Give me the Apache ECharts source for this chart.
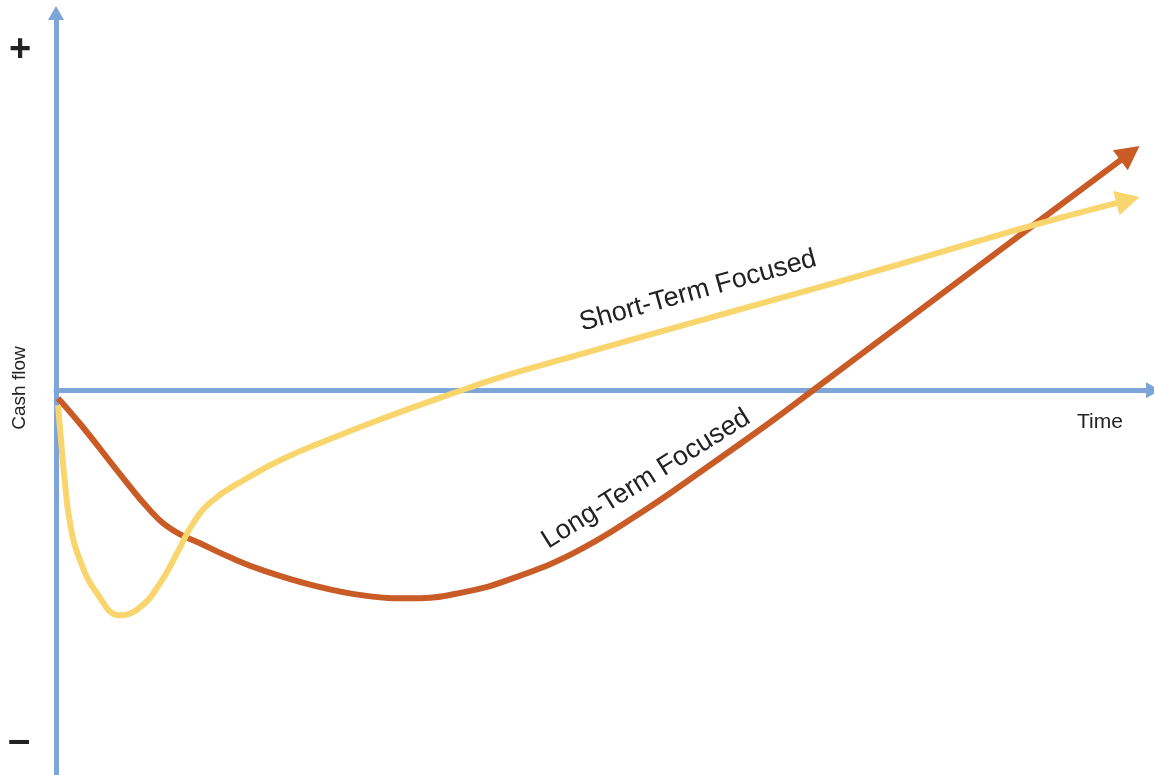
<!DOCTYPE html>
<html>
<head>
<meta charset="utf-8">
<title>Cash flow</title>
<script src="https://cdn.jsdelivr.net/npm/echarts@6/dist/echarts.min.js"></script>
<style>
html, body { margin: 0; padding: 0; background: #fff; }
#main { width: 1154px; height: 775px; }
</style>
</head>
<body>
<div id="main"></div>
<script>
// time runs 0..100, cash flow is in arbitrary units (0 = break even)
var shortTime = [0.18, 0.46, 0.73, 1.28, 2.19, 3.74, 5.83, 7.66, 9.48, 11.03, 12.49, 14.31, 17.41, 20.42, 24.70, 29.54, 35.00, 41.11, 47.13, 56.24, 65.36, 76.94, 88.79, 97.72];
var shortCash = [-3.98, -13.26, -22.02, -35.28, -45.09, -53.85, -59.68, -57.56, -51.19, -43.24, -35.28, -29.18, -23.34, -18.57, -13.26, -7.77, -2.04, 3.98, 8.99, 16.45, 23.87, 33.42, 43.50, 50.40];

var longTime = [0.18, 2.46, 5.56, 8.57, 10.67, 13.13, 15.86, 18.87, 23.43, 27.99, 32.54, 37.10, 41.11, 47.13, 53.24, 59.34, 65.36, 69.01, 76.94, 86.05, 97.90];
var longCash = [-2.12, -9.81, -21.22, -31.83, -37.14, -40.58, -44.30, -47.75, -51.72, -54.38, -55.17, -53.58, -50.40, -43.24, -32.63, -20.42, -7.96, 0, 17.24, 37.14, 62.86];

var blue = '#7DA5D8';
var yellow = '#F9D56E';
var orange = '#C95B27';

var myChart = echarts.init(document.getElementById('main'));

function makeData(xs, ys, rot) {
	var out = [];
	for (var i = 0; i < xs.length; i++) {
		out.push([xs[i], ys[i]]);
	}
	// last point carries the arrow head
	var last = out.pop();
	out.push({
		value: last,
		symbol: 'triangle',
		symbolSize: [25, 24],
		symbolRotate: rot
	});
	return out;
}

function buildOption(rotShort, rotLong) {
	return {
		animation: false,
		grid: { left: 56, right: 1, top: 13, bottom: 0 },
		xAxis: {
			type: 'value', min: 0, max: 100,
			axisLine: { show: true, onZero: true, symbol: ['none', 'triangle'], symbolSize: [16, 14], lineStyle: { color: blue, width: 5 } },
			axisTick: { show: false }, axisLabel: { show: false }, splitLine: { show: false }
		},
		yAxis: {
			type: 'value', min: -102, max: 100,
			axisLine: { show: true, symbol: ['none', 'triangle'], symbolSize: [16, 14], lineStyle: { color: blue, width: 5 } },
			axisTick: { show: false }, axisLabel: { show: false }, splitLine: { show: false }
		},
		series: [{
			name: 'Long-Term Focused',
			type: 'line',
			smooth: 0.45,
			symbol: 'none',
			showSymbol: true,
			z: 3,
			lineStyle: { color: orange, width: 6 },
			itemStyle: { color: orange },
			data: makeData(longTime, longCash, rotLong)
		}, {
			name: 'Short-Term Focused',
			type: 'line',
			smooth: 0.45,
			symbol: 'none',
			showSymbol: true,
			z: 4,
			lineStyle: { color: yellow, width: 6 },
			itemStyle: { color: yellow },
			data: makeData(shortTime, shortCash, rotShort)
		}],
		graphic: [
			{ type: 'text', left: 9, top: 32, style: { text: '+', font: 'bold 38px "Liberation Sans", Arial, sans-serif', fill: '#222' } },
			{ type: 'text', left: 8, top: 722, style: { text: '–', font: 'bold 40px "Liberation Sans", Arial, sans-serif', fill: '#222' } },
			{ type: 'text', x: 20, y: 388, rotation: Math.PI / 2, style: { text: 'Cash flow', font: '19px "Liberation Sans", Arial, sans-serif', fill: '#222', align: 'center', verticalAlign: 'middle' } },
			{ type: 'text', x: 1100, y: 422, style: { text: 'Time', font: '21px "Liberation Sans", Arial, sans-serif', fill: '#222', align: 'center', verticalAlign: 'middle' } },
			{ type: 'text', x: 698, y: 291, rotation: 15.5 * Math.PI / 180, style: { text: 'Short-Term Focused', font: '27px "Liberation Sans", Arial, sans-serif', fill: '#222', align: 'center', verticalAlign: 'middle' } },
			{ type: 'text', x: 646, y: 479, rotation: 32 * Math.PI / 180, style: { text: 'Long-Term Focused', font: '27px "Liberation Sans", Arial, sans-serif', fill: '#222', align: 'center', verticalAlign: 'middle' } }
		]
	};
}

// angle of the final segment in screen space, for the arrow heads
function endAngle(xs, ys) {
	var n = xs.length;
	var a = myChart.convertToPixel({ gridIndex: 0 }, [xs[n - 2], ys[n - 2]]);
	var b = myChart.convertToPixel({ gridIndex: 0 }, [xs[n - 1], ys[n - 1]]);
	var deg = Math.atan2(a[1] - b[1], b[0] - a[0]) * 180 / Math.PI;
	return deg - 90;
}

myChart.setOption(buildOption(0, 0));
myChart.setOption(buildOption(endAngle(shortTime, shortCash), endAngle(longTime, longCash)));
</script>
</body>
</html>
